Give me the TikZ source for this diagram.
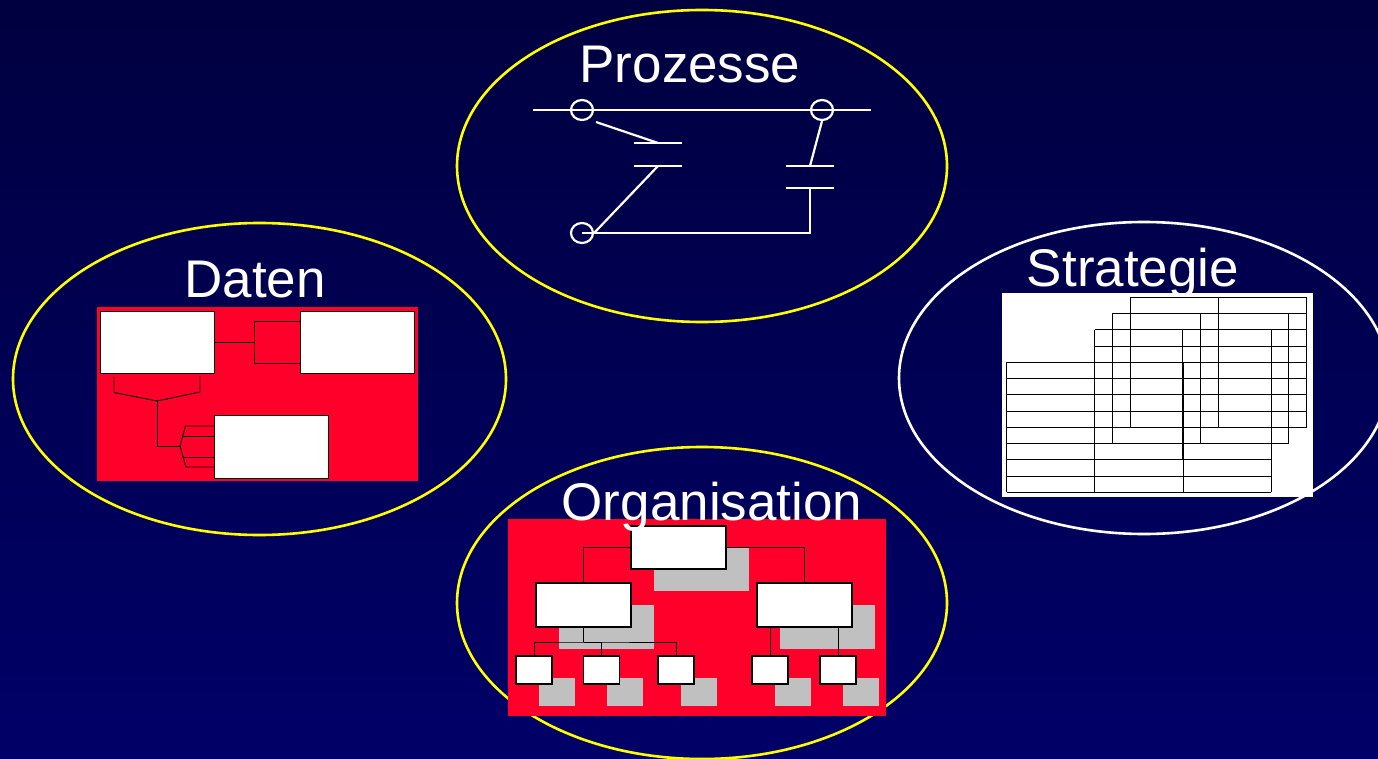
\documentclass[tikz,border=0pt]{standalone}
\usepackage{fontspec}
\setmainfont{Liberation Sans}
\usetikzlibrary{shapes.geometric}
\definecolor{bgtop}{RGB}{0,0,64}
\definecolor{bgbot}{RGB}{0,0,104}
\definecolor{ovalyellow}{RGB}{255,255,0}
\definecolor{panelred}{RGB}{255,0,42}
\definecolor{shadowgray}{RGB}{192,192,192}
\begin{document}
\begin{tikzpicture}[x=1pt,y=-1pt,
  oval/.style={ellipse, draw=ovalyellow, line width=2.6pt, minimum width=490pt, minimum height=312pt, inner sep=0pt},
  heading/.style={text=white, font=\fontsize{53}{60}\selectfont, inner sep=0pt, anchor=base},
  wire/.style={draw=white, line width=2.2pt},
  terminal/.style={ellipse, draw=white, line width=2.2pt, minimum width=22pt, minimum height=20pt, inner sep=0pt},
  entity/.style={draw=black, fill=white, line width=1pt, inner sep=0pt, minimum width=114pt, minimum height=62pt},
  relation/.style={draw=black, line width=0.9pt},
  panel/.style={fill=panelred, inner sep=0pt},
  orgunit/.style={draw=black, fill=white, line width=1.6pt, inner sep=0pt},
  unitshadow/.style={fill=shadowgray, inner sep=0pt},
  orgline/.style={draw=black, line width=0.9pt},
  gridline/.style={draw=black, line width=0.9pt}
]
% background
\path[use as bounding box] (0,0) rectangle (1378,759);
\shade[top color=bgtop, bottom color=bgbot] (0,0) rectangle (1378,759);

% ---------- Prozesse ----------
\node[oval] (procOval) at (702,166) {};
\node[heading] (procTitle) at (690,83) {Prozesse};
\coordinate (railL) at (533,110);
\coordinate (railR) at (871,110);
\draw[wire] (railL) -- (railR);
\node[terminal] (t1) at (582,110) {};
\node[terminal] (t2) at (822,110) {};
\node[terminal] (t3) at (582,233) {};
\coordinate (capA1) at (658,143);
\coordinate (capA2) at (658,166);
\coordinate (capB1) at (810,166);
\coordinate (capB2) at (810,188);
\foreach \p in {capA1,capA2,capB1,capB2}
  \draw[wire] ([xshift=-24pt]\p) -- ([xshift=24pt]\p);
\draw[wire] ([shift={(14pt,-12pt)}]t1.center) -- (capA1);
\draw[wire] (capA2) -- (t3.east);
\draw[wire] (t2.south) -- (capB1);
\draw[wire] (t3.center) -| (capB2);

% ---------- Daten ----------
\node[oval] (dataOval) at (259.5,379) [minimum width=493pt] {};
\node[heading] (dataTitle) at (255,298) {Daten};
\node[panel, minimum width=321pt, minimum height=174pt] (dataPanel) at (257.5,394) {};
\node[entity] (A) at (157,342) {};
\node[entity] (B) at (357,342) {};
\node[entity, minimum height=63pt] (C) at (271,446.5) {};
\coordinate (abj) at (254,342);
\draw[relation] (A.east) -- (abj);
\draw[relation] ([yshift=21pt]B.west) -| (abj) |- ([yshift=-21pt]B.west);
\coordinate (ajoin) at (157,401);
\draw[relation] ([xshift=-43pt,yshift=-3pt]A.south) -- ++(0,16) -- (ajoin) -- ++(43,-9) -- ++(0,-16);
\coordinate (cfork) at (180,446);
\draw[relation] (ajoin) |- (cfork);
\draw[relation] ([yshift=20.5pt]C.west) -- ++(-28,0) -- (cfork) -- ++(6,21) -- ([yshift=-20.5pt]C.west);
\draw[relation] ([yshift=10.5pt]C.west) -- ++(-31,0);
\draw[relation] ([yshift=-10.5pt]C.west) -- ++(-31,0);

% ---------- Strategie ----------
\node[oval, draw=white] (stratOval) at (1144,378) {};
\node[heading] (stratTitle) at (1133,287) {Strategie};
\node[fill=white, inner sep=0pt, minimum width=311pt, minimum height=204pt] (stratPanel) at (1157.5,395) {};
\foreach \gx/\gy/\gc in {1130/297.3/2, 1112.3/313.5/2, 1094.5/329.8/2, 1006.5/362.3/3} {
  \foreach \r in {0,...,8}
    \draw[gridline] (\gx,{\gy+\r*16.25}) -- ({\gx+\gc*88.3},{\gy+\r*16.25});
  \foreach \c in {0,...,\gc}
    \draw[gridline] ({\gx+\c*88.3},\gy) -- ({\gx+\c*88.3},{\gy+130});
}

% ---------- Organisation ----------
\node[oval] (orgOval) at (702,603) {};
\node[panel, minimum width=378pt, minimum height=197pt] (orgPanel) at (697,617.5) {};
% shadows
\node[unitshadow, minimum width=95pt, minimum height=43pt] (topS) at (701.5,569.5) {};
\node[unitshadow, minimum width=95pt, minimum height=44pt] (leftS) at (606.5,626.5) {};
\node[unitshadow, minimum width=95pt, minimum height=44pt] (rightS) at (827.5,626.5) {};
\foreach \sx/\nm in {557/s1S, 624.5/s2S, 699/s3S, 793/s4S, 861/s5S}
  \node[unitshadow, minimum width=36pt, minimum height=28pt] (\nm) at (\sx,692) {};
% units
\node[orgunit, minimum width=95pt, minimum height=43pt] (top) at (678.5,547.5) {};
\node[orgunit, minimum width=95pt, minimum height=44pt] (left) at (583.5,605) {};
\node[orgunit, minimum width=95pt, minimum height=44pt] (right) at (804.5,605) {};
\foreach \sx/\nm in {534/s1, 601.5/s2, 676/s3, 770/s4, 838/s5}
  \node[orgunit, minimum width=36pt, minimum height=28pt] (\nm) at (\sx,670) {};
% reporting lines
\draw[orgline] (top.west) -| (left.north);
\draw[orgline] (top.east) -| (right.north);
\coordinate (lbus) at (583.5,642);
\draw[orgline] (left.south) -- (lbus);
\draw[orgline] (s1.north) |- (lbus) -| (s3.north);
\draw[orgline] (lbus) -| (s2.north);
\draw[orgline] (s4.north) -- (s4.north |- right.south);
\draw[orgline] (s5.north) -- (s5.north |- right.south);
\node[heading] (orgTitle) at (712,520) {Organisation};
\end{tikzpicture}
\end{document}
